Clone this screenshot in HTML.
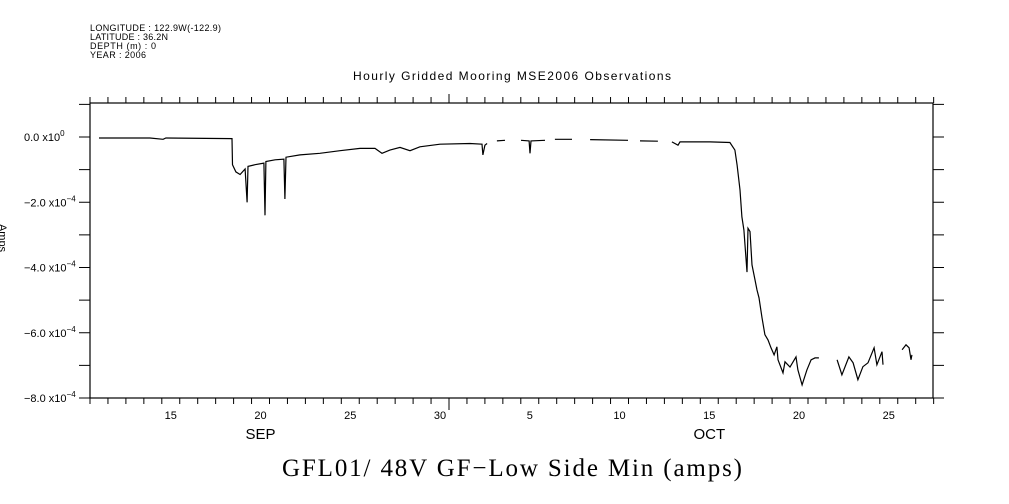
<!DOCTYPE html>
<html><head><meta charset="utf-8"><style>
body{margin:0;background:#fff;width:1009px;height:504px;overflow:hidden}
svg{display:block}
text{font-family:"Liberation Sans",sans-serif;fill:#000}
</style></head><body>
<svg id="chart" width="1009" height="504" viewBox="0 0 1009 504">
<g font-size="9">
<text x="90" y="31" textLength="131">LONGITUDE : 122.9W(-122.9)</text>
<text x="90" y="40" textLength="78">LATITUDE : 36.2N</text>
<text x="90" y="49" textLength="66">DEPTH (m) : 0</text>
<text x="90" y="58" textLength="56">YEAR : 2006</text>
</g>
<text x="353" y="80" font-size="12" textLength="318">Hourly Gridded Mooring MSE2006 Observations</text>
<text x="282" y="476" font-size="25" textLength="460" style="font-family:'Liberation Serif',serif">GFL01/ 48V GF−Low Side Min (amps)</text>
<text transform="translate(-1,238) rotate(90)" font-size="11" text-anchor="middle">Amps</text>
<g id="axes"></g>
<path id="series" fill="none" stroke="#000" stroke-width="1.2"/>
</svg>
<script>
const days=[0.5,3.34,4.07,4.23,7.91,7.94,8.13,8.36,8.64,8.75,8.8,9.19,9.69,9.75,9.8,10.31,10.8,10.86,10.92,11.7,12.81,13.93,15.04,15.88,16.27,16.71,17.27,17.83,18.38,19.5,21.17,21.84,21.89,22.0,22.12,null,
22.67,23.12,null,24.01,24.46,24.51,24.57,25.35,null,25.9,26.85,null,27.86,29.97,null,30.64,31.64,null,
32.42,32.76,32.87,34.54,35.65,35.93,36.05,36.21,36.32,36.43,36.49,36.6,36.66,36.77,36.88,37.05,37.16,37.27,37.44,37.6,37.77,37.94,38.11,38.27,38.33,38.61,38.72,39.0,39.33,39.44,39.67,39.94,40.17,40.39,40.61,null,
41.62,41.89,42.28,42.51,42.78,43.06,43.34,43.68,43.84,44.12,44.18,null,45.24,45.46,45.63,45.74,45.79];
const amps=[-0.03,-0.03,-0.07,-0.03,-0.05,-0.85,-1.07,-1.15,-0.98,-2.0,-0.9,-0.85,-0.8,-2.4,-0.75,-0.7,-0.68,-1.9,-0.62,-0.55,-0.5,-0.42,-0.35,-0.35,-0.5,-0.4,-0.32,-0.42,-0.3,-0.22,-0.2,-0.22,-0.55,-0.25,-0.2,null,
-0.12,-0.1,null,-0.1,-0.12,-0.5,-0.12,-0.1,null,-0.07,-0.07,null,-0.08,-0.1,null,-0.12,-0.13,null,
-0.15,-0.25,-0.15,-0.15,-0.17,-0.4,-0.86,-1.62,-2.45,-2.85,-3.31,-4.14,-2.8,-2.9,-3.92,-4.38,-4.69,-4.93,-5.54,-6.06,-6.22,-6.46,-6.68,-6.43,-6.83,-7.23,-6.89,-7.05,-6.74,-7.14,-7.6,-7.14,-6.83,-6.77,-6.77,null,
-6.83,-7.29,-6.74,-6.92,-7.44,-7.04,-6.92,-6.46,-6.98,-6.58,-6.98,null,-6.52,-6.37,-6.46,-6.83,-6.68];
const yTickVals=[0,-2,-4,-6,-8];
const yTickLabels=["0.0 x10","−2.0 x10","−4.0 x10","−6.0 x10","−8.0 x10"];
const yTickExp=["0","−4","−4","−4","−4"];
const xLabelDays=[4.5,9.5,14.5,19.5,24.5,29.5,34.5,39.5,44.5];
const xLabels=["15","20","25","30","5","10","15","20","25"];
const monthDays=[9.5,34.5];
const monthLabels=["SEP","OCT"];
const L=90,R=933,T=103,B=398,PX=17.95;
const X=d=>L+d*PX, Y=v=>137-v*32.625;
const ns="http://www.w3.org/2000/svg";
const g=document.getElementById('axes');
function mk(t,a){const e=document.createElementNS(ns,t);for(const k in a)e.setAttribute(k,a[k]);g.appendChild(e);return e;}
const frame=mk('rect',{x:L,y:T,width:R-L,height:B-T,fill:'none',stroke:'#000','stroke-width':1.2});


for(let d=0;d<=47;d++){const x=X(d);const big=(d===20);
 const t1=mk('line',{x1:x,x2:x,y1:T,y2:T-(big?9:6),stroke:'#000'});
 
 
 const t2=mk('line',{x1:x,x2:x,y1:B,y2:B+(big?12:6),stroke:'#000'});
 
 }
for(let v=1;v>=-8;v--){const y=Y(v);
 const a=mk('line',{x1:L-11,x2:L,y1:y,y2:y,stroke:'#000'});
 
 
 const b=mk('line',{x1:R,x2:R+11,y1:y,y2:y,stroke:'#000'});
 
 }
yTickVals.forEach((v,i)=>{const t=mk('text',{x:24,y:Y(v)+4,'font-size':11});
 
 
 t.textContent=yTickLabels[i];
 const s=document.createElementNS(ns,'tspan');s.setAttribute('dy','-5');s.setAttribute('font-size','8');s.textContent=yTickExp[i];t.appendChild(s);});
xLabelDays.forEach((d,i)=>{const t=mk('text',{x:X(d),y:419,'font-size':11,'text-anchor':'middle'});
 
 
 t.textContent=xLabels[i];});
monthDays.forEach((d,i)=>{const t=mk('text',{x:X(d),y:439,'font-size':15,'text-anchor':'middle'});
 
 
 t.textContent=monthLabels[i];});
let p='',pen=false;
days.forEach((d,i)=>{if(d===null||amps[i]===null){pen=false;return;}
 p+=(pen?'L':'M')+X(d).toFixed(1)+' '+Y(amps[i]).toFixed(1);pen=true;});
document.getElementById('series').setAttribute('d',p);
</script>
</body></html>
